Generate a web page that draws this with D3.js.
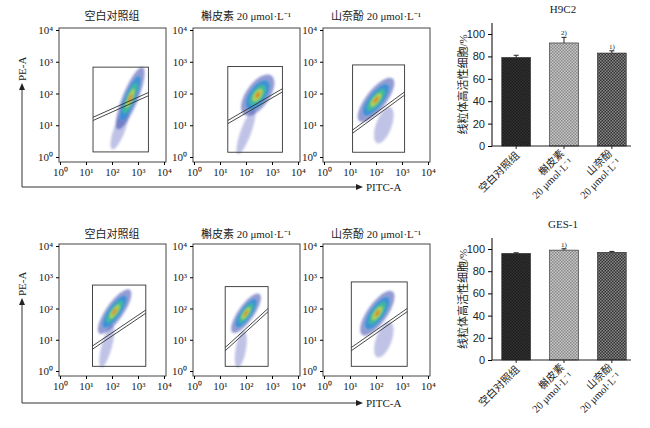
<!doctype html>
<html>
<head>
<meta charset="utf-8" />
<script src="https://cdn.jsdelivr.net/npm/d3@7"></script>
<style>
  body { margin: 0; background: #fff; }
  text { font-family: "Liberation Serif", "Noto Sans CJK SC", serif; fill: #222; }
</style>
</head>
<body>
<svg id="fig" width="650" height="428"></svg>
<script>
// ---- data ----
var groups = ["空白对照组", "槲皮素 20 μmol·L⁻¹", "山奈酚 20 μmol·L⁻¹"];
var barGroups = [["空白对照组"], ["槲皮素", "20 μmol·L⁻¹"], ["山奈酚", "20 μmol·L⁻¹"]];
var cellLines = ["H9C2", "GES-1"];
var h9c2Values = [79, 92, 83];
var h9c2Errors = [2, 5, 2];
var h9c2Marks = ["", "2)", "1)"];
var gesValues = [96, 99, 97];
var gesErrors = [0.6, 1.2, 0.8];
var gesMarks = ["", "1)", ""];
var yTicks = [0, 20, 40, 60, 80, 100];
var logTicks = [0, 1, 2, 3, 4];
var logLabels = ["10⁰", "10¹", "10²", "10³", "10⁴"];
// gates in log10 units: [x0, x1, y0, y1]
var gatesTop = [[1.27, 3.4, 0.16, 2.83], [1.3, 3.4, 0.15, 2.85], [1.1, 3.1, 0.15, 2.9]];
var gatesBot = [[1.25, 3.3, 0.15, 2.75], [1.2, 2.85, 0.15, 2.7], [1.05, 3.2, 0.15, 2.85]];
// dividing line: [x0, y0, x1, y1]
var linesTop = [[1.27, 1.2, 3.4, 1.98], [1.3, 1.1, 3.4, 2.1], [1.1, 0.8, 3.1, 2.0]];
var linesBot = [[1.25, 0.75, 3.3, 1.9], [1.2, 0.7, 2.85, 1.95], [1.05, 0.7, 3.2, 1.95]];
// density cores: [cx, cy, rx, ry, angle]
var coresTop = [[2.7, 1.85, 0.3, 1.05, 22], [2.45, 1.95, 0.45, 0.75, 35], [2.0, 1.8, 0.38, 0.85, 38]];
var coresBot = [[2.1, 1.9, 0.33, 0.85, 35], [2.0, 1.85, 0.3, 0.75, 35], [2.05, 1.85, 0.38, 0.85, 35]];
// sparse tails: [cx, cy, rx, ry, angle]
var tailsTop = [[2.3, 0.9, 0.22, 0.7, 20], [2.0, 0.8, 0.2, 0.75, 20], [2.3, 1.0, 0.3, 0.6, 20]];
var tailsBot = [[1.8, 0.8, 0.2, 0.7, 15], [1.8, 0.7, 0.2, 0.6, 10], [2.3, 1.0, 0.3, 0.6, 20]];
var densColors = ["#2b3aa8", "#2f8fd8", "#3fbf8f", "#c8d83a", "#e86a2a"];
var densScale = [1, 0.72, 0.5, 0.3, 0.14];

var svg = d3.select("#fig");
var defs = svg.append("defs");
defs.append("filter").attr("id", "blur").append("feGaussianBlur").attr("stdDeviation", 1.1);

function pattern(id, bg, fg, size) {
  var p = defs.append("pattern").attr("id", id).attr("patternUnits", "userSpaceOnUse")
    .attr("width", size).attr("height", size);
  p.append("rect").attr("width", size).attr("height", size).attr("fill", bg);
  p.append("rect").attr("width", size / 2).attr("height", size / 2).attr("fill", fg);
  p.append("rect").attr("x", size / 2).attr("y", size / 2).attr("width", size / 2).attr("height", size / 2).attr("fill", fg);
}
pattern("p0", "#1c1c1c", "#333", 3);
pattern("p1", "#c8c8c8", "#888", 3);
pattern("p2", "#333", "#888", 3);

var lefts = [59, 193, 323];

function flowRow(top, bottom, gates, lines, cores, tails, titleY) {
  lefts.forEach(function (left, i) {
    var x = d3.scaleLinear().domain([0, 4]).range([left + 1, left + 105]);
    var y = d3.scaleLinear().domain([0, 4]).range([bottom - 5, top + 2]);
    var g = svg.append("g");
    g.append("text").attr("x", left + 53).attr("y", titleY).attr("text-anchor", "middle")
      .attr("font-size", 11).text(groups[i]);
    // density
    var dg = g.append("g").attr("filter", "url(#blur)");
    var t = tails[i];
    dg.append("ellipse").attr("transform", "translate(" + x(t[0]) + "," + y(t[1]) + ") rotate(" + t[4] + ")")
      .attr("rx", x(t[2]) - x(0)).attr("ry", y(0) - y(t[3])).attr("fill", densColors[0]).attr("opacity", 0.3);
    var c = cores[i];
    densScale.forEach(function (s, k) {
      dg.append("ellipse").attr("transform", "translate(" + x(c[0]) + "," + y(c[1]) + ") rotate(" + c[4] + ")")
        .attr("rx", (x(c[2]) - x(0)) * s).attr("ry", (y(0) - y(c[3])) * s)
        .attr("fill", densColors[k]).attr("opacity", k == 0 ? 0.5 : 0.85);
    });
    // gate
    var gt = gates[i];
    g.append("rect").attr("x", x(gt[0])).attr("y", y(gt[3])).attr("width", x(gt[1]) - x(gt[0]))
      .attr("height", y(gt[2]) - y(gt[3])).attr("fill", "none").attr("stroke", "#333").attr("stroke-width", 0.9);
    var ln = lines[i];
    [-1.6, 1.6].forEach(function (o) {
      g.append("line").attr("x1", x(ln[0])).attr("y1", y(ln[1]) + o).attr("x2", x(ln[2])).attr("y2", y(ln[3]) + o)
        .attr("stroke", "#333").attr("stroke-width", 0.9);
    });
    // frame
    g.append("rect").attr("x", left).attr("y", top).attr("width", 107).attr("height", bottom - top)
      .attr("fill", "none").attr("stroke", "#444").attr("stroke-width", 1);
    var xa = d3.axisBottom(x).tickValues(logTicks).tickFormat(function (d, j) { return logLabels[j]; }).tickSize(3);
    var ya = d3.axisLeft(y).tickValues(logTicks).tickFormat(function (d, j) { return logLabels[j]; }).tickSize(3);
    var gx = g.append("g").attr("transform", "translate(0," + bottom + ")").call(xa);
    var gy = g.append("g").attr("transform", "translate(" + left + ",0)").call(ya);
    [gx, gy].forEach(function (a) {
      a.select(".domain").remove();
      a.selectAll("text").attr("font-size", 11).style("font-family", "Liberation Serif");
    });
  });
}

function arrows(yLine, yTop) {
  svg.append("path").attr("d", "M22," + yLine + "H356M22," + yLine + "V" + yTop)
    .attr("fill", "none").attr("stroke", "#333");
  svg.append("path").attr("d", "M356," + (yLine - 3) + "L363," + yLine + "L356," + (yLine + 3) + "Z").attr("fill", "#222");
  svg.append("path").attr("d", "M19," + yTop + "L22," + (yTop - 7) + "L25," + yTop + "Z").attr("fill", "#222");
  svg.append("text").attr("x", 366).attr("y", yLine + 4).attr("font-size", 11).text("PITC-A");
  svg.append("text").attr("transform", "translate(26," + (yTop - 9) + ") rotate(-90)").attr("font-size", 11).text("PE-A");
}

flowRow(28, 162, gatesTop, linesTop, coresTop, tailsTop, 20);
arrows(187, 90);
flowRow(244, 376, gatesBot, linesBot, coresBot, tailsBot, 238);
arrows(403, 305);

function barChart(yTop, yZero, y100, vals, errs, marks, title) {
  var y = d3.scaleLinear().domain([0, 100]).range([yZero, y100]);
  var x = d3.scaleBand().domain([0, 1, 2]).range([497, 631]).paddingInner(0.4).paddingOuter(0.1);
  var g = svg.append("g");
  g.append("text").attr("x", 563).attr("y", yTop - 10).attr("text-anchor", "middle")
    .attr("font-size", 11).text(title);
  vals.forEach(function (v, i) {
    g.append("rect").attr("x", x(i)).attr("y", y(v)).attr("width", x.bandwidth()).attr("height", yZero - y(v))
      .attr("fill", "url(#p" + i + ")").attr("stroke", "#222").attr("stroke-width", 0.6);
    var cx = x(i) + x.bandwidth() / 2;
    g.append("path").attr("d", "M" + cx + "," + y(v) + "V" + y(v + errs[i]) + "M" + (cx - 2.5) + "," + y(v + errs[i]) + "H" + (cx + 2.5))
      .attr("stroke", "#222").attr("fill", "none");
    if (marks[i]) g.append("text").attr("x", cx).attr("y", y(v + errs[i]) - 2).attr("text-anchor", "middle")
      .attr("font-size", 7).text(marks[i]);
    var lab = g.append("text").attr("transform", "translate(" + (cx + 4) + "," + (yZero + 10) + ") rotate(-45)")
      .attr("text-anchor", "end").attr("font-size", 10.5);
    barGroups[i].forEach(function (s, k) {
      lab.append("tspan").attr("x", 0).attr("dy", k == 0 ? 0 : 12).text(s);
    });
    if (barGroups[i].length > 1) lab.attr("transform", "translate(" + (cx + 1) + "," + (yZero + 8) + ") rotate(-45)");
  });
  var ya = d3.axisLeft(y).tickValues(yTicks).tickSize(4);
  var gy = g.append("g").attr("transform", "translate(492,0)").call(ya);
  gy.select(".domain").attr("d", "M-0," + yTop + "V" + yZero);
  gy.selectAll("text").attr("font-size", 11).style("font-family", "Liberation Sans");
  g.append("path").attr("d", "M492," + yZero + "H631").attr("stroke", "#222");
  vals.forEach(function (v, i) {
    var cx = x(i) + x.bandwidth() / 2;
    g.append("line").attr("x1", cx).attr("x2", cx).attr("y1", yZero).attr("y2", yZero + 3).attr("stroke", "#222");
  });
  g.append("text").attr("transform", "translate(467," + ((yTop + yZero) / 2) + ") rotate(-90)")
    .attr("text-anchor", "middle").attr("font-size", 11).text("线粒体高活性细胞/%");
}

barChart(23, 146, 34, h9c2Values, h9c2Errors, h9c2Marks, cellLines[0]);
barChart(238, 360, 249, gesValues, gesErrors, gesMarks, cellLines[1]);
</script>
</body>
</html>
